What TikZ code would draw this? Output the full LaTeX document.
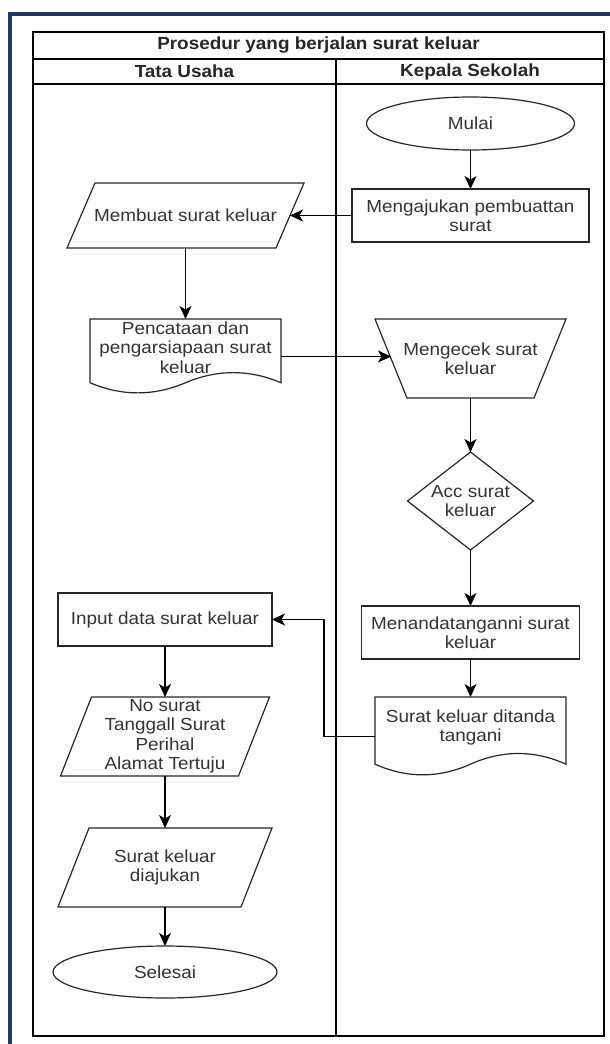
\documentclass[tikz,border=0pt]{standalone}
\usepackage{fontspec}
\setmainfont[FakeStretch=1.08]{Liberation Sans}
\usetikzlibrary{calc,arrows.meta,shapes.geometric}
\definecolor{navy}{RGB}{31,56,100}
\definecolor{txtc}{RGB}{51,51,51}
\newcommand{\docoutline}[3]{%
  \pgfmathsetmacro{\mydy}{0.3*#3}%
  \draw[shp] (#1.north west) -- (#1.north east)
    -- ($(#1.south west)+(#2,-0.5*\mydy)$)
    .. controls ($(#1.south west)+(5*#2/6,-1.1*\mydy)$) and ($(#1.south west)+(2*#2/3,-1.1*\mydy)$) ..
    ($(#1.south west)+(#2/2,-0.5*\mydy)$)
    .. controls ($(#1.south west)+(#2/3,0.1*\mydy)$) and ($(#1.south west)+(#2/6,0.1*\mydy)$) ..
    ($(#1.south west)+(0,-0.5*\mydy)$) -- cycle;}
\newcommand{\paraoutline}[2]{%
  \draw[shp] (#1.south west) -- ($(#1.north west)+(#2,0)$) -- (#1.north east)
    -- ($(#1.south east)+(-#2,0)$) -- cycle;}
\begin{document}
\begin{tikzpicture}[x=1pt,y=-1pt,
  lbl/.style={font=\fontsize{17.5}{19.5}\selectfont, text=txtc, align=center, inner sep=0pt, outer sep=0pt},
  hdr/.style={font=\bfseries\fontsize{17.5}{19.5}\selectfont, text=black!85, inner sep=0pt},
  shp/.style={draw=black!85, line width=1.2pt},
  proc/.style={lbl, shp, rectangle},
  term/.style={lbl, shp, ellipse},
  frm/.style={lbl, rectangle},
  pool/.style={draw=black, line width=1.3pt},
  arr/.style={draw=black, line width=1.3pt, -{Stealth[length=13pt,width=12pt,inset=3.5pt]}}]
\useasboundingbox (0,0) rectangle (610,1044);
% outer navy frame
\draw[navy, line width=4pt] (9.5,1050) -- (9.5,13.5) -- (620,13.5);
% pool
\draw[pool] (33,32) rectangle (604,1036);
\draw[pool] (33,59) -- (604,59);
\draw[pool] (33,84) -- (604,84);
\draw[pool] (336,59) -- (336,1036);
\node[hdr] (title) at (318.5,45.5) {Prosedur yang berjalan surat keluar};
\node[hdr] (lane1) at (184.5,71.5) {Tata Usaha};
\node[hdr] (lane2) at (470,71.5) {Kepala Sekolah};
% nodes
\node[term, minimum width=208pt, minimum height=53pt] (mulai) at (470.5,123.5) {Mulai};
\node[proc, minimum width=237pt, minimum height=53pt] (ajukan) at (470.5,215.5) {Mengajukan pembuattan\\surat};
\node[frm, minimum width=237pt, minimum height=65pt] (membuat) at (185.5,215.5) {Membuat surat keluar};
\node[frm, minimum width=191pt, minimum height=75pt] (catat) at (185.5,356.5) {};
\node[lbl] (catatt) at ($(catat.center)+(0,-9)$) {Pencataan dan\\pengarsiapaan surat\\keluar};
\node[frm, minimum width=191pt, minimum height=79pt] (cek) at (470.5,358.5) {Mengecek surat\\keluar};
\node[frm, minimum width=126pt, minimum height=98pt] (acc) at (470.5,501) {Acc surat\\keluar};
\node[proc, minimum width=218pt, minimum height=53pt] (ttd) at (470.5,632.5) {Menandatanganni surat\\keluar};
\node[frm, minimum width=191pt, minimum height=79pt] (ditanda) at (470.5,736.5) {};
\node[lbl] (ditandat) at ($(ditanda.center)+(0,-9)$) {Surat keluar ditanda\\tangani};
\node[proc, minimum width=214pt, minimum height=53pt] (input) at (165,619.5) {Input data surat keluar};
\node[frm, minimum width=209pt, minimum height=79pt] (nosurat) at (165,736.5) {No surat\\Tanggall Surat\\Perihal\\Alamat Tertuju};
\node[frm, minimum width=214pt, minimum height=79pt] (diajukan) at (165,867.5) {Surat keluar\\diajukan};
\node[term, minimum width=224pt, minimum height=52pt] (selesai) at (165,972) {Selesai};
% outlines
\paraoutline{membuat}{28}
\docoutline{catat}{191}{75}
\draw[shp] (cek.north west) -- (cek.north east) -- ($(cek.south east)+(-32,0)$) -- ($(cek.south west)+(32,0)$) -- cycle;
\draw[shp] (acc.north) -- (acc.east) -- (acc.south) -- (acc.west) -- cycle;
\docoutline{ditanda}{191}{79}
\paraoutline{nosurat}{31}
\paraoutline{diajukan}{31}
% connectors
\coordinate (mbR) at ($(membuat.east)+(-14,0)$);
\coordinate (cekL) at ($(cek.west)+(16,0)$);
\coordinate (elbow) at (324,619.5);
\draw[arr] (mulai.south) -- (ajukan.north);
\draw[arr] (ajukan.west) -- (ajukan.west -| mbR);
\draw[arr] (membuat.south) -- (catat.north);
\draw[arr] (catat.east) -- (catat.east -| cekL);
\draw[arr] (cek.south) -- (acc.north);
\draw[arr] (acc.south) -- (ttd.north);
\draw[arr] (ttd.south) -- (ditanda.north);
\draw[arr] (ditanda.west) -| (elbow) -- (input.east);
\draw[arr] (input.south) -- (nosurat.north);
\draw[arr] (nosurat.south) -- (diajukan.north);
\draw[arr] (diajukan.south) -- (selesai.north);
\end{tikzpicture}
\end{document}
